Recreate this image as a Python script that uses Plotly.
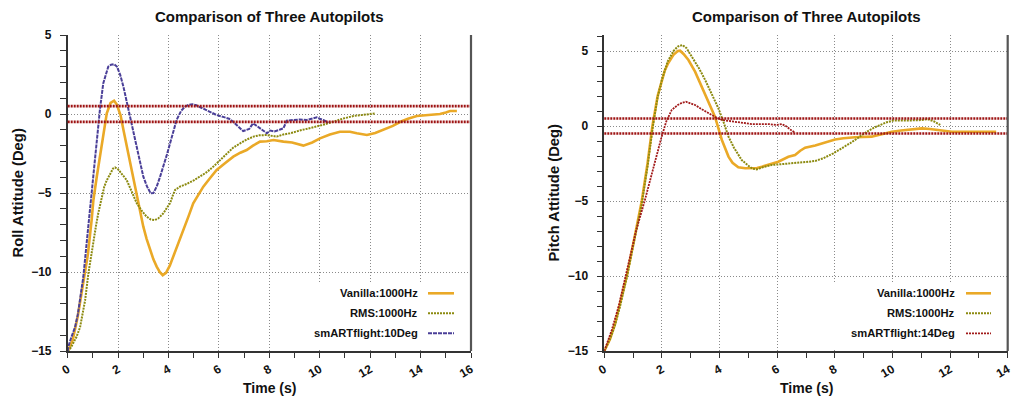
import plotly.graph_objects as go

W, H = 1011, 397

# ---------------- data ----------------
roll_vanilla_t = [0, 0.2, 0.4, 0.6, 0.69, 0.8, 0.95, 1.02, 1.15, 1.28, 1.41, 1.55, 1.7, 1.84, 1.95, 2.1,
                  2.21, 2.34, 2.47, 2.6, 2.74, 2.87, 3.0, 3.13, 3.27, 3.4, 3.53, 3.65, 3.77, 3.9, 4.05,
                  4.19, 4.4, 4.59, 4.8, 4.98, 5.18, 5.38, 5.65, 5.91, 6.25, 6.57, 6.85, 7.1, 7.35, 7.63,
                  7.9, 8.16, 8.56, 8.9, 9.35, 9.7, 10.01, 10.4, 10.8, 11.2, 11.47, 11.87, 12.2, 12.52,
                  12.9, 13.2, 13.5, 13.85, 14.3, 14.77, 15.0, 15.17, 15.44]
roll_vanilla_v = [-15, -14.3, -12.8, -10.8, -10.1, -8.9, -6.7, -5.44, -4.0, -2.7, -1.22, 0.04, 0.7, 0.84, 0.6, -0.1,
                  -1.0, -2.0, -3.12, -4.2, -5.23, -6.2, -7.13, -7.9, -8.6, -9.2, -9.66, -10.0, -10.2, -10.05, -9.6,
                  -9.03, -8.2, -7.34, -6.45, -5.65, -5.1, -4.6, -4.05, -3.54, -3.1, -2.7, -2.45, -2.28, -2.0, -1.75,
                  -1.72, -1.65, -1.75, -1.8, -2.0, -1.8, -1.54, -1.3, -1.12, -1.12, -1.22, -1.33, -1.2, -1.01,
                  -0.75, -0.49, -0.3, -0.13, -0.05, 0.0, 0.1, 0.19, 0.19]

roll_rms_t = [0, 0.1, 0.22, 0.35, 0.49, 0.6, 0.69, 0.82, 0.92, 1.02, 1.12, 1.21, 1.35, 1.45, 1.55, 1.68, 1.8,
              1.88, 2.0, 2.15, 2.34, 2.55, 2.74, 2.95, 3.13, 3.3, 3.46, 3.6, 3.8, 3.93, 4.06, 4.16, 4.26,
              4.45, 4.72, 5.0, 5.25, 5.5, 5.78, 6.05, 6.31, 6.55, 6.84, 7.1, 7.37, 7.6, 7.9, 8.29, 8.55,
              8.82, 9.2, 9.62, 10.1, 10.54, 10.9, 11.33, 11.8, 12.19]
roll_rms_v = [-15, -14.85, -14.5, -14.1, -13.5, -12.6, -11.8, -10.1, -9.0, -8.0, -7.1, -6.3, -5.3, -4.6, -4.2,
              -3.76, -3.45, -3.38, -3.5, -3.8, -4.18, -4.95, -5.65, -6.15, -6.5, -6.68, -6.71, -6.6, -6.28,
              -5.95, -5.65, -5.2, -4.81, -4.6, -4.43, -4.2, -3.97, -3.7, -3.33, -2.9, -2.49, -2.15, -1.86,
              -1.62, -1.43, -1.35, -1.33, -1.43, -1.3, -1.22, -1.05, -0.9, -0.7, -0.49, -0.3, -0.13, -0.05, 0.04]

roll_smart_t = [0, 0.03, 0.15, 0.29, 0.4, 0.49, 0.56, 0.62, 0.75, 0.89, 1.02, 1.15, 1.28, 1.41, 1.52, 1.61,
                1.72, 1.84, 1.95, 2.08, 2.21, 2.34, 2.47, 2.6, 2.74, 2.87, 3.0, 3.15, 3.29, 3.4, 3.53, 3.66,
                3.8, 3.93, 4.06, 4.19, 4.32, 4.5, 4.65, 4.8, 4.95, 5.1, 5.3, 5.6, 5.9, 6.2, 6.4, 6.56, 6.75,
                6.96, 7.2, 7.35, 7.5, 7.7, 7.9, 8.03, 8.2, 8.4, 8.56, 8.69, 8.9, 9.2, 9.48, 9.7, 9.88, 10.0,
                10.14, 10.34]
roll_smart_v = [-15, -14.7, -14.1, -13.5, -12.7, -11.8, -11.0, -10.3, -8.2, -5.87, -4.0, -1.9, 0.3, 1.94, 2.6,
                3.0, 3.12, 3.16, 3.0, 2.5, 1.73, 0.8, -0.17, -1.2, -2.28, -3.2, -3.97, -4.6, -5.02, -5.0, -4.6,
                -4.0, -3.33, -2.6, -1.86, -1.1, -0.38, 0.2, 0.46, 0.58, 0.62, 0.55, 0.4, 0.2, -0.06, -0.2,
                -0.3, -0.49, -0.75, -1.08, -0.95, -0.6, -0.75, -1.0, -1.22, -1.05, -1.1, -1.0, -0.9, -0.42,
                -0.38, -0.35, -0.38, -0.3, -0.21, -0.3, -0.38, -0.55]

pitch_vanilla_t = [0, 0.2, 0.37, 0.55, 0.78, 1.0, 1.15, 1.3, 1.5, 1.67, 1.85, 1.99, 2.1, 2.22, 2.4, 2.55,
                   2.63, 2.75, 2.92, 3.15, 3.38, 3.6, 3.84, 4.08, 4.2, 4.31, 4.45, 4.65, 4.89, 5.1, 5.3,
                   5.47, 5.75, 6.04, 6.39, 6.62, 6.8, 6.97, 7.32, 7.55, 8.01, 8.3, 8.7, 9.28, 9.6, 9.98,
                   10.3, 10.67, 11.02, 11.3, 11.6, 12.06, 12.8, 13.6]
pitch_vanilla_v = [-15, -14.2, -13.2, -11.8, -10.0, -7.9, -6.4, -5.0, -2.5, 0.0, 2.0, 3.0, 3.7, 4.2, 4.75, 5.0,
                   5.02, 4.8, 4.4, 3.62, 2.62, 1.6, 0.62, -0.93, -1.5, -2.04, -2.45, -2.75, -2.82, -2.82, -2.8,
                   -2.71, -2.55, -2.38, -2.05, -1.93, -1.65, -1.45, -1.3, -1.15, -0.9, -0.82, -0.75, -0.71,
                   -0.55, -0.38, -0.3, -0.25, -0.16, -0.2, -0.27, -0.38, -0.38, -0.38]

pitch_rms_t = [0, 0.2, 0.37, 0.55, 0.78, 1.0, 1.15, 1.3, 1.5, 1.68, 1.85, 2.0, 2.2, 2.4, 2.55, 2.71, 2.85,
               3.05, 3.3, 3.5, 3.75, 3.96, 4.15, 4.31, 4.5, 4.77, 5.0, 5.15, 5.29, 5.5, 5.81, 6.2, 6.62, 7.0,
               7.32, 7.6, 7.95, 8.25, 8.53, 8.8, 9.11, 9.35, 9.57, 9.8, 10.03, 10.5, 10.9, 11.23, 11.45, 11.66]
pitch_rms_v = [-15, -14.2, -13.3, -12.0, -10.1, -8.1, -6.7, -5.2, -2.7, -0.1, 1.9, 3.1, 4.3, 5.0, 5.3, 5.4,
               5.2, 4.6, 3.8, 3.07, 2.1, 1.18, 0.2, -0.71, -1.45, -2.27, -2.65, -2.85, -2.89, -2.75, -2.6,
               -2.55, -2.49, -2.4, -2.33, -2.15, -1.82, -1.5, -1.15, -0.8, -0.38, -0.12, 0.07, 0.25, 0.36,
               0.38, 0.38, 0.45, 0.3, 0.07]

pitch_smart_t = [0, 0.26, 0.5, 0.83, 1.1, 1.41, 1.7, 1.99, 2.15, 2.34, 2.55, 2.7, 2.83, 2.95, 3.15, 3.4,
                 3.61, 3.85, 4.08, 4.35, 4.65, 4.9, 5.12, 5.4, 5.69, 5.99, 6.16, 6.3, 6.39, 6.5, 6.62]
pitch_smart_v = [-15, -13.6, -12.0, -9.16, -7.0, -4.93, -2.8, -0.71, 0.3, 1.07, 1.4, 1.55, 1.62, 1.55, 1.4,
                 1.1, 0.84, 0.6, 0.4, 0.33, 0.29, 0.2, 0.13, 0.13, 0.13, 0.07, 0.13, 0.0, -0.16, -0.3, -0.44]

tolerance_band = [0.5, -0.5]

plot_title = "Comparison of Three Autopilots"
x_title = "Time (s)"
roll_title = "Roll Attitude (Deg)"
pitch_title = "Pitch Attitude (Deg)"
roll_names = ["Vanilla:1000Hz", "RMS:1000Hz", "smARTflight:10Deg"]
pitch_names = ["Vanilla:1000Hz", "RMS:1000Hz", "smARTflight:14Deg"]

# ---------------- styles ----------------
FONT = "Liberation Sans, Arial, sans-serif"
C_VAN = "#EAA927"
C_RMS = "#8C8A10"
C_BLUE = "#4A3F98"
C_RED = "#A11A1A"
C_BAND = "#9E1414"

sty_van = dict(color=C_VAN, width=2.6)
sty_rms = dict(color=C_RMS, width=2, dash="2px,1px")
sty_blue = dict(color=C_BLUE, width=2, dash="4px,1px")
sty_red = dict(color=C_RED, width=1.8, dash="2px,1px")


def px(x):
    return x / W


def py(y):
    return 1 - y / H


fig = go.Figure()

fig.add_trace(go.Scatter(x=roll_vanilla_t, y=roll_vanilla_v, mode="lines", line=sty_van,
                         xaxis="x", yaxis="y", name=roll_names[0]))
fig.add_trace(go.Scatter(x=roll_rms_t, y=roll_rms_v, mode="lines", line=sty_rms,
                         xaxis="x", yaxis="y", name=roll_names[1]))
fig.add_trace(go.Scatter(x=roll_smart_t, y=roll_smart_v, mode="lines", line=sty_blue,
                         xaxis="x", yaxis="y", name=roll_names[2]))

fig.add_trace(go.Scatter(x=pitch_vanilla_t, y=pitch_vanilla_v, mode="lines", line=sty_van,
                         xaxis="x2", yaxis="y2", name=pitch_names[0]))
fig.add_trace(go.Scatter(x=pitch_rms_t, y=pitch_rms_v, mode="lines", line=sty_rms,
                         xaxis="x2", yaxis="y2", name=pitch_names[1]))
fig.add_trace(go.Scatter(x=pitch_smart_t, y=pitch_smart_v, mode="lines", line=sty_red,
                         xaxis="x2", yaxis="y2", name=pitch_names[2]))

tickfont = dict(family=FONT, size=12, color="#111", weight="bold")
GRID = dict(showgrid=True, gridcolor="#8a8a8a", griddash="1px,2px", gridwidth=1)


def xaxis_cfg(domain, rng):
    return dict(domain=domain, range=rng, dtick=2, tick0=0, **GRID,
                zeroline=False, showline=True, linecolor="#333",
                linewidth=1.5, ticks="outside", ticklen=5, tickcolor="#333", tickwidth=1.2,
                tickangle=-30, tickfont=tickfont, automargin=False, ticklabeloverflow="allow",
                minor=dict(dtick=1, ticks="outside", ticklen=5, tickcolor="#333", showgrid=False))


def yaxis_cfg(domain, rng, anchor):
    return dict(domain=domain, range=rng, dtick=5, tick0=0, **GRID,
                zeroline=False, showline=True, linecolor="#333",
                linewidth=1.5, ticks="outside", ticklen=6, tickcolor="#333", tickwidth=1.2,
                tickfont=tickfont, anchor=anchor, ticklabelstandoff=6, automargin=False,
                ticklabeloverflow="allow",
                minor=dict(dtick=1, ticks="outside", ticklen=6, tickcolor="#333", showgrid=False))


ydom = [py(351), py(35)]
fig.update_layout(
    width=W, height=H, autosize=False,
    margin=dict(l=0, r=0, t=0, b=0, pad=0, autoexpand=False),
    paper_bgcolor="white", plot_bgcolor="white",
    showlegend=False,
    xaxis=dict(**xaxis_cfg([px(67.7), px(471)], [0, 16]), anchor="y"),
    yaxis=yaxis_cfg(ydom, [-15, 5], "x"),
    xaxis2=dict(**xaxis_cfg([px(604.3), px(1007.7)], [0, 14]), anchor="y2"),
    yaxis2=yaxis_cfg(ydom, [-15, 5 + 16 / 15], "x2"),
)

shapes = []
# tolerance band lines
for xr, yr in (("x domain", "y"), ("x2 domain", "y2")):
    for b in tolerance_band:
        shapes.append(dict(type="line", xref=xr, yref=yr, x0=0, x1=1, y0=b, y1=b,
                           line=dict(color=C_BAND, width=2.6, dash="2px,1px"), layer="above"))
    # right border
    shapes.append(dict(type="line", xref=xr, yref=yr + " domain", x0=1, x1=1, y0=0, y1=1,
                       line=dict(color="#555", width=2.2), layer="above"))

# legend boxes (white background hiding grid)
shapes.append(dict(type="rect", xref="paper", yref="paper", x0=px(300), x1=px(466), y0=py(349.5), y1=py(283),
                   fillcolor="white", line=dict(width=0), layer="above"))
shapes.append(dict(type="rect", xref="paper", yref="paper", x0=px(828), x1=px(1004), y0=py(349.5), y1=py(283),
                   fillcolor="white", line=dict(width=0), layer="above"))

annotations = []
legend_rows = [293.3, 313.3, 333.3]
for names, styles, tx, s0, s1 in (
        (roll_names, [sty_van, sty_rms, sty_blue], 419.5, 428, 454),
        (pitch_names, [sty_van, sty_rms, sty_red], 956.7, 966, 991)):
    for name, st, yy in zip(names, styles, legend_rows):
        annotations.append(dict(text=name, xref="paper", yref="paper", x=px(tx), y=py(yy),
                                xanchor="right", yanchor="middle", showarrow=False,
                                font=dict(family=FONT, size=11.2, color="#111", weight="bold")))
        shapes.append(dict(type="line", xref="paper", yref="paper", x0=px(s0), x1=px(s1),
                           y0=py(yy), y1=py(yy), line=st, layer="above"))

titlefont = dict(family=FONT, size=15, color="#111", weight="bold")
xtitlefont = dict(family=FONT, size=14, color="#111", weight="bold")
for cx in (269.4, 806):
    annotations.append(dict(text=plot_title, xref="paper", yref="paper", x=px(cx), y=py(16),
                            xanchor="center", yanchor="middle", showarrow=False, font=titlefont))
    annotations.append(dict(text=x_title, xref="paper", yref="paper", x=px(cx), y=py(388),
                            xanchor="center", yanchor="middle", showarrow=False, font=xtitlefont))
annotations.append(dict(text=roll_title, xref="paper", yref="paper", x=px(17), y=py(193.5),
                        xanchor="center", yanchor="middle", showarrow=False, textangle=-90,
                        font=dict(family=FONT, size=14.8, color="#111", weight="bold")))
annotations.append(dict(text=pitch_title, xref="paper", yref="paper", x=px(553), y=py(192.5),
                        xanchor="center", yanchor="middle", showarrow=False, textangle=-90,
                        font=dict(family=FONT, size=14.8, color="#111", weight="bold")))

fig.update_layout(shapes=shapes, annotations=annotations)

fig.write_html(
    "out.html",
    config={"displayModeBar": False},
    post_script="document.body.style.margin='0';document.body.style.padding='0';"
                "document.body.style.overflow='hidden';",
)
